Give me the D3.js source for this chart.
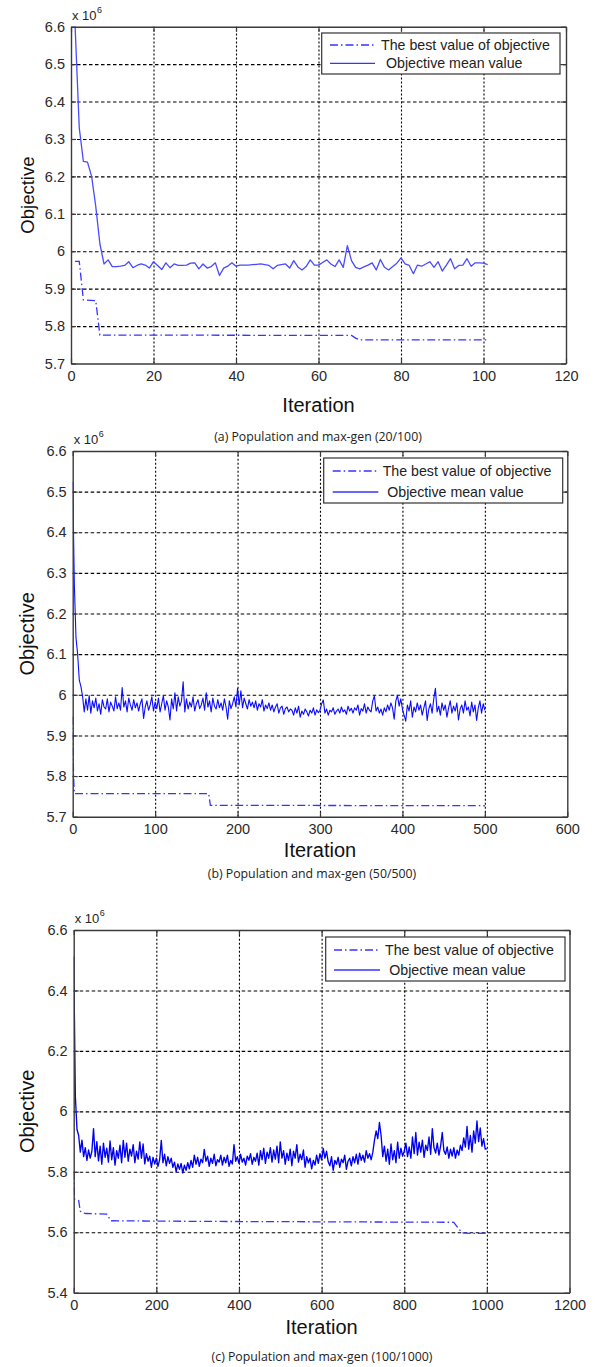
<!DOCTYPE html>
<html><head><meta charset="utf-8">
<script src="https://cdn.jsdelivr.net/npm/d3@7"></script>
<style>
body{margin:0;background:#fff;}
svg{display:block;font-family:"Liberation Sans",Arial,sans-serif;}
</style></head><body>
<svg id="chart" width="595" height="1367"></svg>
<script>
// values are in units of 10^6

// (a) population 20, max-gen 100 : iterations 1..101
var iterA = d3.range(1, 102);
var meanA = [6.600, 6.330, 6.240, 6.238, 6.200, 6.120, 6.020, 5.966, 5.977, 5.959,
  5.959, 5.960, 5.962, 5.972, 5.956, 5.962, 5.966, 5.963, 5.955, 5.972,
  5.962, 5.951, 5.969, 5.956, 5.966, 5.962, 5.962, 5.963, 5.968, 5.969,
  5.953, 5.966, 5.955, 5.959, 5.969, 5.935, 5.955, 5.960, 5.969, 5.960,
  5.963, 5.963, 5.963, 5.964, 5.965, 5.966, 5.964, 5.962, 5.953, 5.962,
  5.964, 5.966, 5.955, 5.975, 5.958, 5.950, 5.959, 5.977, 5.963, 5.963,
  5.970, 5.977, 5.966, 5.959, 5.977, 5.957, 6.015, 5.975, 5.957, 5.953,
  5.958, 5.963, 5.969, 5.950, 5.978, 5.957, 5.950, 5.959, 5.968, 5.982,
  5.966, 5.962, 5.940, 5.963, 5.960, 5.966, 5.972, 5.957, 5.972, 5.947,
  5.963, 5.980, 5.953, 5.962, 5.963, 5.980, 5.960, 5.969, 5.969, 5.968,
  5.964];
// best value: [iteration, value] at the points where it changes
var bestA = [[1, 5.973], [2, 5.973], [3, 5.870], [6, 5.868], [7, 5.776], [68, 5.775], [69, 5.768], [70, 5.763], [101, 5.763]];

// (b) population 50, max-gen 500 : read every 2 iterations, 0..500
var stepB = 2;
var meanB = [6.525, 6.270, 6.140, 6.100, 6.036, 6.020, 5.996, 5.958, 5.990, 5.962,
  5.998, 5.955, 5.985, 5.968, 5.992, 5.960, 5.978, 5.952, 5.988, 5.970,
  5.965, 5.990, 5.958, 5.982, 5.972, 5.960, 5.995, 5.966, 5.980, 5.962,
  6.018, 5.970, 5.985, 5.958, 5.992, 5.975, 5.962, 5.988, 5.968, 5.980,
  5.960, 5.978, 5.990, 5.942, 5.970, 5.985, 5.962, 5.975, 5.995, 5.960,
  5.982, 5.966, 5.992, 5.958, 5.978, 5.998, 5.962, 5.985, 5.970, 5.938,
  5.990, 5.965, 6.005, 5.960, 5.995, 5.972, 5.985, 6.032, 5.958, 5.990,
  5.965, 5.982, 5.970, 5.995, 5.960, 5.978, 5.988, 5.966, 5.975, 5.992,
  5.962, 6.005, 5.970, 5.985, 5.958, 5.992, 5.972, 5.965, 5.988, 5.968,
  5.980, 5.962, 5.990, 5.970, 5.940, 5.985, 5.966, 5.978, 5.995, 5.970,
  6.016, 5.975, 6.010, 5.968, 5.992, 5.978, 5.965, 5.988, 5.972, 5.982,
  5.968, 5.985, 5.962, 5.978, 5.970, 5.988, 5.960, 5.975, 5.966, 5.980,
  5.962, 5.975, 5.958, 5.970, 5.978, 5.955, 5.968, 5.972, 5.952, 5.966,
  5.970, 5.958, 5.965, 5.962, 5.950, 5.968, 5.955, 5.972, 5.945, 5.960,
  5.952, 5.965, 5.958, 5.948, 5.962, 5.955, 5.968, 5.950, 5.963, 5.956,
  5.962, 5.978, 5.987, 5.955, 5.965, 5.950, 5.962, 5.958, 5.968, 5.952,
  5.960, 5.965, 5.955, 5.970, 5.958, 5.963, 5.952, 5.972, 5.960, 5.967,
  5.955, 5.968, 5.962, 5.975, 5.950, 5.966, 5.960, 5.978, 5.955, 5.970,
  5.962, 5.958, 5.985, 5.997, 5.960, 5.970, 5.955, 5.965, 5.950, 5.968,
  5.958, 5.975, 5.962, 5.980, 5.968, 5.940, 5.985, 5.999, 5.972, 5.990,
  5.965, 5.950, 5.935, 5.975, 5.960, 5.985, 5.945, 5.970, 5.958, 5.980,
  5.962, 5.975, 5.950, 5.968, 5.985, 5.937, 5.965, 5.978, 5.955, 5.990,
  6.016, 5.958, 5.972, 5.950, 5.980, 5.962, 5.975, 5.945, 5.968, 5.985,
  5.955, 5.972, 5.960, 5.980, 5.938, 5.965, 5.975, 5.955, 5.985, 5.962,
  5.970, 5.948, 5.982, 5.958, 5.975, 5.937, 5.968, 5.985, 5.955, 5.978,
  5.962];
var bestB = [[0, 5.946], [1, 5.800], [2, 5.757], [165, 5.757], [167, 5.728], [500, 5.727]];

// (c) population 100, max-gen 1000 : read every 4 iterations, 0..1000
var stepC = 4;
var meanC = [6.512, 6.050, 5.940, 5.920, 5.865, 5.905, 5.850, 5.880, 5.838, 5.872,
  5.845, 5.868, 5.943, 5.850, 5.900, 5.836, 5.885, 5.825, 5.895, 5.848,
  5.878, 5.832, 5.902, 5.840, 5.880, 5.822, 5.870, 5.845, 5.888, 5.830,
  5.904, 5.848, 5.895, 5.835, 5.875, 5.852, 5.890, 5.830, 5.868, 5.842,
  5.899, 5.845, 5.892, 5.826, 5.860, 5.835, 5.852, 5.815, 5.848, 5.826,
  5.845, 5.818, 5.840, 5.904, 5.830, 5.858, 5.820, 5.850, 5.828, 5.845,
  5.815, 5.832, 5.800, 5.826, 5.808, 5.828, 5.796, 5.822, 5.805, 5.830,
  5.810, 5.838, 5.815, 5.855, 5.825, 5.848, 5.818, 5.842, 5.830, 5.874,
  5.835, 5.852, 5.818, 5.845, 5.828, 5.858, 5.820, 5.840, 5.832, 5.855,
  5.822, 5.848, 5.830, 5.855, 5.818, 5.838, 5.826, 5.890, 5.835, 5.850,
  5.828, 5.858, 5.832, 5.845, 5.822, 5.852, 5.838, 5.860, 5.825, 5.848,
  5.835, 5.862, 5.822, 5.870, 5.840, 5.878, 5.828, 5.865, 5.845, 5.880,
  5.832, 5.872, 5.842, 5.885, 5.830, 5.899, 5.845, 5.870, 5.825, 5.862,
  5.838, 5.875, 5.820, 5.868, 5.845, 5.890, 5.832, 5.858, 5.840, 5.872,
  5.815, 5.850, 5.830, 5.845, 5.810, 5.838, 5.822, 5.855, 5.828, 5.860,
  5.840, 5.877, 5.845, 5.868, 5.833, 5.820, 5.850, 5.805, 5.838, 5.825,
  5.848, 5.815, 5.842, 5.830, 5.855, 5.808, 5.835, 5.845, 5.820, 5.850,
  5.830, 5.858, 5.825, 5.862, 5.838, 5.855, 5.832, 5.870, 5.845, 5.860,
  5.840, 5.865, 5.905, 5.935, 5.910, 5.963, 5.920, 5.850, 5.885, 5.835,
  5.875, 5.825, 5.892, 5.840, 5.870, 5.830, 5.898, 5.845, 5.878, 5.852,
  5.868, 5.895, 5.850, 5.882, 5.845, 5.915, 5.860, 5.930, 5.855, 5.898,
  5.865, 5.905, 5.848, 5.888, 5.870, 5.915, 5.858, 5.943, 5.880, 5.862,
  5.895, 5.855, 5.885, 5.930, 5.870, 5.858, 5.882, 5.845, 5.875, 5.852,
  5.880, 5.845, 5.872, 5.855, 5.888, 5.870, 5.912, 5.882, 5.950, 5.875,
  5.920, 5.865, 5.935, 5.895, 5.968, 5.900, 5.945, 5.885, 5.910, 5.875,
  5.877];
var bestC = [[0, 5.800], [1, 5.740], [2, 5.710], [12, 5.705], [16, 5.670], [20, 5.665], [30, 5.662], [80, 5.660], [90, 5.638],
  [300, 5.636], [920, 5.633], [930, 5.615], [940, 5.598], [960, 5.596], [1000, 5.597]];

// tick labels
var yTicksAB = [5.7, 5.8, 5.9, 6.0, 6.1, 6.2, 6.3, 6.4, 6.5, 6.6];
var yTicksC = [5.4, 5.6, 5.8, 6.0, 6.2, 6.4, 6.6];
var xTicksA = [0, 20, 40, 60, 80, 100, 120];
var xTicksB = [0, 100, 200, 300, 400, 500, 600];
var xTicksC = [0, 200, 400, 600, 800, 1000, 1200];

var legendNames = ["The best value of objective", "Objective mean value"];
var captions = ["(a) Population and max-gen (20/100)", "(b) Population and max-gen (50/500)", "(c) Population and max-gen (100/1000)"];

var panels = [
  {left: 71, right: 566, top: 26.7, bottom: 363.5, xTicks: xTicksA, yTicks: yTicksAB,
   mean: meanA.map(function(v, i) { return [iterA[i], v]; }), best: bestA,
   meanColor: "#4a4aff", meanWidth: 1.3, yLabelSize: 18.5, capX: 318, capY: 436, iterY: 405,
   leg: {x: 321.7, y: 33, w: 238.3, h: 41, r1: 45, r2: 63.3, lx0: 330, lx1: 375, t1: 381, t2: 386}},
  {left: 72.7, right: 567.3, top: 451, bottom: 816.7, xTicks: xTicksB, yTicks: yTicksAB,
   mean: meanB.map(function(v, i) { return [i * stepB, v]; }), best: bestB,
   meanColor: "#0c0cff", meanWidth: 1.1, yLabelSize: 20, capX: 312, capY: 873, iterY: 850,
   leg: {x: 323.7, y: 458, w: 239, h: 45, r1: 471, r2: 492, lx0: 332.7, lx1: 378.3, t1: 382.7, t2: 387.3}},
  {left: 73.7, right: 569.5, top: 930, bottom: 1292.7, xTicks: xTicksC, yTicks: yTicksC,
   mean: meanC.map(function(v, i) { return [i * stepC, v]; }), best: bestC,
   meanColor: "#0000f0", meanWidth: 1.35, yLabelSize: 20, capX: 322, capY: 1356, iterY: 1327,
   leg: {x: 325.7, y: 937, w: 239.3, h: 44, r1: 950, r2: 970, lx0: 334, lx1: 380, t1: 385, t2: 389.3}}
];

var svg = d3.select("#chart");
var fmt = function(d) { return +d.toFixed(1); };
var dashDot = "8,3,1.5,3";

panels.forEach(function(p, k) {
  var x = d3.scaleLinear().domain([p.xTicks[0], p.xTicks[p.xTicks.length - 1]]).range([p.left, p.right]);
  var y = d3.scaleLinear().domain([p.yTicks[0], p.yTicks[p.yTicks.length - 1]]).range([p.bottom, p.top]);
  var w = p.right - p.left, h = p.bottom - p.top;
  var g = svg.append("g");

  // grid
  var gx = g.append("g").attr("transform", "translate(0," + p.bottom + ")")
    .call(d3.axisBottom(x).tickValues(p.xTicks.slice(1, -1)).tickSize(-h).tickFormat(""));
  gx.select(".domain").remove();
  gx.selectAll("line").attr("stroke", "#000").attr("stroke-width", 1.1).attr("stroke-dasharray", "2,2");
  var gy = g.append("g").attr("transform", "translate(" + p.left + ",0)")
    .call(d3.axisLeft(y).tickValues(p.yTicks.slice(1, -1)).tickSize(-w).tickFormat(""));
  gy.select(".domain").remove();
  gy.selectAll("line").attr("stroke", "#000").attr("stroke-width", 1.1).attr("stroke-dasharray", "3.5,2.5");

  // lines
  g.append("clipPath").attr("id", "clip" + k).append("rect")
    .attr("x", p.left).attr("y", p.top).attr("width", w).attr("height", h);
  var line = d3.line().x(function(d) { return x(d[0]); }).y(function(d) { return y(d[1]); });
  g.append("path").datum(p.best).attr("d", line).attr("clip-path", "url(#clip" + k + ")")
    .attr("fill", "none").attr("stroke", "#3434ff").attr("stroke-width", 1.3).attr("stroke-dasharray", dashDot);
  g.append("path").datum(p.mean).attr("d", line).attr("clip-path", "url(#clip" + k + ")")
    .attr("fill", "none").attr("stroke", p.meanColor).attr("stroke-width", p.meanWidth).attr("stroke-linejoin", "round");

  // box and inward ticks
  var axes = [
    d3.axisBottom(x).tickValues(p.xTicks).tickFormat(fmt).tickPadding(7),
    d3.axisLeft(y).tickValues(p.yTicks).tickFormat(fmt).tickPadding(6),
    d3.axisTop(x).tickValues(p.xTicks).tickFormat(""),
    d3.axisRight(y).tickValues(p.yTicks).tickFormat("")
  ];
  var pos = ["translate(0," + p.bottom + ")", "translate(" + p.left + ",0)", "translate(0," + p.top + ")", "translate(" + p.right + ",0)"];
  axes.forEach(function(a, j) {
    var ag = g.append("g").attr("transform", pos[j]).call(a.tickSize(-5).tickSizeOuter(0));
    ag.select(".domain").attr("stroke", "#3a3a3a").attr("stroke-width", 1.4);
    ag.selectAll("line").attr("stroke", "#3a3a3a").attr("stroke-width", 1.2);
    ag.selectAll("text").attr("font-size", 14.5).attr("fill", "#2a2a2a")
      .attr("font-family", "'Liberation Sans', Arial, sans-serif");
  });

  // exponent
  g.append("text").attr("x", p.left + 1).attr("y", p.top - 7).attr("font-size", 13).attr("fill", "#262626").text("x 10");
  g.append("text").attr("x", p.left + 26).attr("y", p.top - 14).attr("font-size", 9).attr("fill", "#262626").text("6");

  // axis titles
  g.append("text").attr("transform", "translate(27," + (p.top + h / 2) + ") rotate(-90)")
    .attr("text-anchor", "middle").attr("dominant-baseline", "central")
    .attr("font-size", p.yLabelSize).attr("fill", "#111").text("Objective");
  g.append("text").attr("x", p.left + w / 2).attr("y", p.iterY).attr("dominant-baseline", "central")
    .attr("text-anchor", "middle").attr("font-size", 20).attr("fill", "#111").text("Iteration");
  g.append("text").attr("x", p.capX).attr("y", p.capY).attr("dominant-baseline", "central")
    .attr("text-anchor", "middle").attr("font-size", 12.3).attr("fill", "#222")
    .attr("font-family", "'Open Sans', 'Noto Sans', sans-serif").text(captions[k]);

  // legend
  var L = p.leg;
  g.append("rect").attr("x", L.x).attr("y", L.y).attr("width", L.w).attr("height", L.h)
    .attr("fill", "#fff").attr("stroke", "#333").attr("stroke-width", 1.2);
  g.append("line").attr("x1", L.lx0).attr("x2", L.lx1).attr("y1", L.r1).attr("y2", L.r1)
    .attr("stroke", "#3434ff").attr("stroke-width", 1.3).attr("stroke-dasharray", dashDot);
  g.append("line").attr("x1", L.lx0).attr("x2", L.lx1).attr("y1", L.r2).attr("y2", L.r2)
    .attr("stroke", "#3434ff").attr("stroke-width", 1.3);
  [L.r1, L.r2].forEach(function(ry, j) {
    g.append("text").attr("x", j === 0 ? L.t1 : L.t2).attr("y", ry).attr("dominant-baseline", "central")
      .attr("font-size", 14.2).attr("fill", "#222").text(legendNames[j]);
  });
});
</script>
</body></html>
